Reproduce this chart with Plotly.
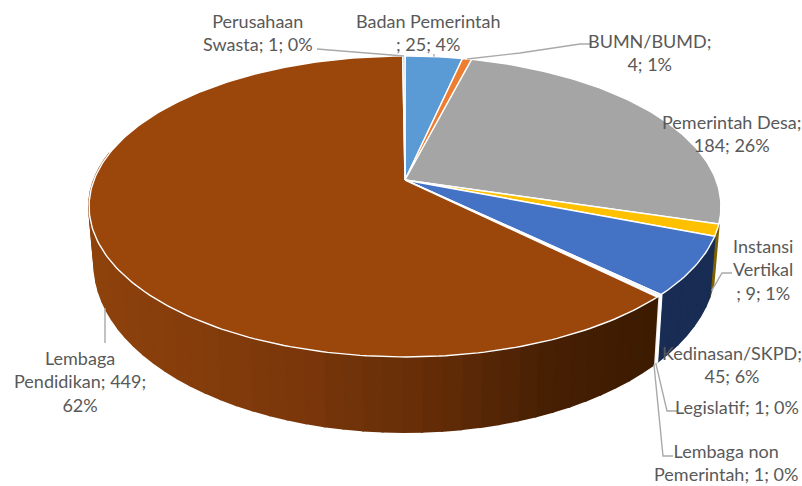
import math
import plotly.graph_objects as go

categories = ["Badan Pemerintah", "BUMN/BUMD", "Pemerintah Desa", "Instansi Vertikal", "Kedinasan/SKPD",
              "Legislatif", "Lembaga non Pemerintah", "Lembaga Pendidikan", "Perusahaan Swasta"]
values = [25, 4, 184, 9, 45, 1, 1, 449, 1]
percent_labels = ["4%", "1%", "26%", "1%", "6%", "0%", "0%", "62%", "0%"]
colors = ["#5b9bd5", "#ed7d31", "#a5a5a5", "#ffc000", "#4472c4", "#c9d4c0", "#c9cfd8", "#9b460b", "#c4c4c4"]

# label text, centre x, centre y
labels = [
    ("Perusahaan<br>Swasta; 1; 0%", 258, 32),
    ("Badan Pemerintah<br>; 25; 4%", 428, 32),
    ("BUMN/BUMD;<br>4; 1%", 649, 52),
    ("Pemerintah Desa;<br>184; 26%", 732, 133),
    ("Instansi<br>Vertikal<br>; 9; 1%", 763, 269),
    ("Kedinasan/SKPD;<br>45; 6%", 732, 364),
    ("Legislatif; 1; 0%", 737, 407),
    ("Lembaga non<br>Pemerintah; 1; 0%", 726, 462),
    ("Lembaga<br>Pendidikan; 449;<br>62%", 80, 381),
]

CX, CY, R, A, K = 405.0, 180.0, 311.0, 145.8, 0.176   # perspective of the top face
XS, YA, YB = 0.983, 34.0, 1.115                       # mapping of the top rim to the bottom rim


def top(theta):
    t = math.radians(theta)
    w = 1 + K * math.cos(t)
    return CX + R * math.sin(t) / w, CY - A * math.cos(t) / w


def bottom(theta):
    x, y = top(theta)
    return CX + XS * (x - CX), YA + YB * y


total = sum(values)
edges = [0.0]
for v in values:
    edges.append(edges[-1] + v / total * 360)

fig = go.Figure()


def add_poly(xs, ys, fill, line=None, width=1.0):
    fig.add_trace(go.Scatter(x=xs, y=ys, mode="lines", fill="toself", fillcolor=fill,
                             line=dict(color=line or fill, width=width),
                             hoverinfo="skip", showlegend=False))


def lerp_color(stops, x):
    for (x0, c0), (x1, c1) in zip(stops, stops[1:]):
        if x <= x1:
            f = max(0.0, (x - x0) / (x1 - x0))
            return "rgb(%d,%d,%d)" % tuple(round(a + (b - a) * f) for a, b in zip(c0, c1))
    return "rgb(%d,%d,%d)" % stops[-1][1]


side_stops = {
    3: [(700, (127, 96, 0)), (720, (127, 96, 0))],
    4: [(650, (24, 44, 84)), (720, (24, 44, 84))],
    5: [(640, (235, 235, 235)), (670, (235, 235, 235))],
    6: [(640, (235, 235, 235)), (670, (235, 235, 235))],
    7: [(90, (142, 66, 12)), (300, (122, 55, 10)), (450, (96, 43, 7)), (550, (70, 31, 3)), (660, (60, 27, 0))],
}

# side wall, one narrow strip at a time
for i, stops in side_stops.items():
    a0, a1 = edges[i], min(edges[i + 1], 281.0)
    n = max(1, int((a1 - a0) / 3))
    for j in range(n):
        t0 = a0 + (a1 - a0) * j / n
        t1 = a0 + (a1 - a0) * (j + 1) / n
        p0, p1, q1, q0 = top(t0), top(t1), bottom(t1), bottom(t0)
        c = lerp_color(stops, (p0[0] + p1[0]) / 2)
        add_poly([p0[0], p1[0], q1[0], q0[0], p0[0]], [p0[1], p1[1], q1[1], q0[1], p0[1]], c, width=2)

# white edge between the wall strips of Kedinasan and Lembaga Pendidikan
e = edges[5]
fig.add_trace(go.Scatter(x=[top(e)[0], bottom(e)[0]], y=[top(e)[1], bottom(e)[1]], mode="lines",
                         line=dict(color="white", width=3), hoverinfo="skip", showlegend=False))

# top face
for i, v in enumerate(values):
    n = max(2, int((edges[i + 1] - edges[i]) / 1.0))
    pts = [top(edges[i] + (edges[i + 1] - edges[i]) * j / n) for j in range(n + 1)]
    xs = [CX] + [p[0] for p in pts] + [CX]
    ys = [CY] + [p[1] for p in pts] + [CY]
    add_poly(xs, ys, colors[i], line="white", width=1.4)

# leader lines: from a slice's rim outward to the elbow beside its label
leaders = [
    (8, "top", [(317, 49)]),
    (0, "top", [(434, 54)]),
    (1, "top", [(520, 53), (580, 44), (592, 44)]),
    (3, "bottom", [(722, 273), (732, 273)]),
    (5, "bottom", [(667, 411), (677, 411)]),
    (6, "bottom", [(663, 456), (673, 456)]),
    (7, "bottom", [(105, 343)]),
]
for i, where, elbows in leaders:
    mid = (edges[i] + edges[i + 1]) / 2
    if i == 7:
        start = (105, 308)
    else:
        start = top(mid) if where == "top" else bottom(mid)
    xs = [start[0]] + [p[0] for p in elbows]
    ys = [start[1]] + [p[1] for p in elbows]
    fig.add_trace(go.Scatter(x=xs, y=ys, mode="lines", line=dict(color="#a9a9a9", width=1.4),
                             hoverinfo="skip", showlegend=False))

for text, x, y in labels:
    fig.add_annotation(x=x, y=y, text=text, showarrow=False, xanchor="center", yanchor="middle",
                       align="center", font=dict(family="Lato, Carlito, sans-serif", size=18, color="#595959"))

fig.update_layout(
    width=802, height=486, autosize=False,
    margin=dict(l=0, r=0, t=0, b=0),
    paper_bgcolor="white", plot_bgcolor="white", showlegend=False,
    xaxis=dict(range=[0, 802], visible=False, fixedrange=True),
    yaxis=dict(range=[486, 0], visible=False, fixedrange=True),
)
fig.write_html("out.html", config={"displayModeBar": False},
               post_script="document.body.style.margin='0';document.body.style.overflow='hidden';")
